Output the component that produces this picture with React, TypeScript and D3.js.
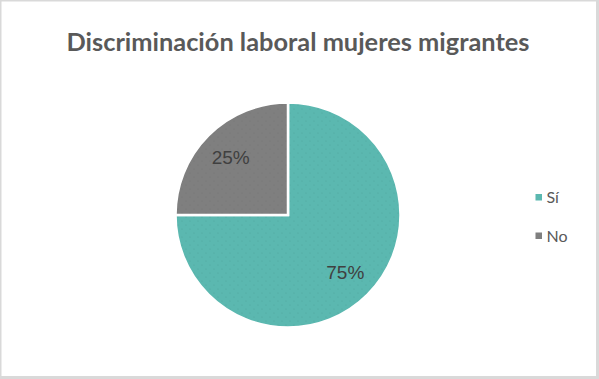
import React from "react";
import * as d3 from "d3";

const title = "Discriminación laboral mujeres migrantes";
const categories = ["Sí", "No"];
const values = [75, 25];
const colors = ["#5BB8B0", "#7F7F7F"];
const dotColors = ["#4FA69E", "#737373"];

const W = 599;
const H = 379;

export default function App() {
  const cx = 288;
  const cy = 215;
  const r = 112.5;
  const pie = d3
    .pie<number>()
    .sort(null)
    .startAngle(0)
    .endAngle(2 * Math.PI)
    .value((d) => d);
  const arcs = pie(values);
  const arc = d3.arc<d3.PieArcDatum<number>>().innerRadius(0).outerRadius(r);
  const labelArc = d3
    .arc<d3.PieArcDatum<number>>()
    .innerRadius(r * 0.72)
    .outerRadius(r * 0.72);
  const total = d3.sum(values);

  return (
    <svg
      width={W}
      height={H}
      style={{ position: "absolute", left: 0, top: 0 }}
    >
      <defs>
        {colors.map((c, i) => (
          <pattern
            key={i}
            id={`dots${i}`}
            width={8}
            height={8}
            patternUnits="userSpaceOnUse"
          >
            <rect width={8} height={8} fill={c} />
            <circle cx={2} cy={2} r={0.6} fill={dotColors[i]} />
            <circle cx={6} cy={6} r={0.6} fill={dotColors[i]} />
          </pattern>
        ))}
      </defs>
      <rect x={0} y={0} width={W} height={H} fill="#D9D9D9" />
      <rect x={1.5} y={1.5} width={W - 4.5} height={H - 4.5} fill="#FFFFFF" />
      <text
        x={298}
        y={51}
        textAnchor="middle"
        fontFamily="Lato, 'Open Sans', sans-serif"
        fontWeight={700}
        fontSize={24}
        fill="#595959"
        textLength={463}
        lengthAdjust="spacingAndGlyphs"
      >
        {title}
      </text>
      <g transform={`translate(${cx},${cy})`}>
        {arcs.map((a, i) => (
          <path
            key={i}
            d={arc(a) || ""}
            fill={`url(#dots${i})`}
            stroke="#FFFFFF"
            strokeWidth={2.5}
          />
        ))}
        {arcs.map((a, i) => {
          const [x, y] = labelArc.centroid(a);
          return (
            <text
              key={i}
              x={x}
              y={y}
              dy="0.35em"
              textAnchor="middle"
              fontFamily="'Liberation Sans', Arial, sans-serif"
              fontSize={19}
              fill="#404040"
            >
              {`${Math.round((values[i] / total) * 100)}%`}
            </text>
          );
        })}
      </g>
      {categories.map((c, i) => (
        <g key={c} transform={`translate(535.5,${194 + i * 38.5})`}>
          <rect width={6.5} height={6.5} fill={colors[i]} />
          <text
            x={11}
            y={3.25}
            dy="0.36em"
            fontFamily="Lato, 'Open Sans', sans-serif"
            fontSize={16}
            fill="#595959"
          >
            {c}
          </text>
        </g>
      ))}
    </svg>
  );
}
